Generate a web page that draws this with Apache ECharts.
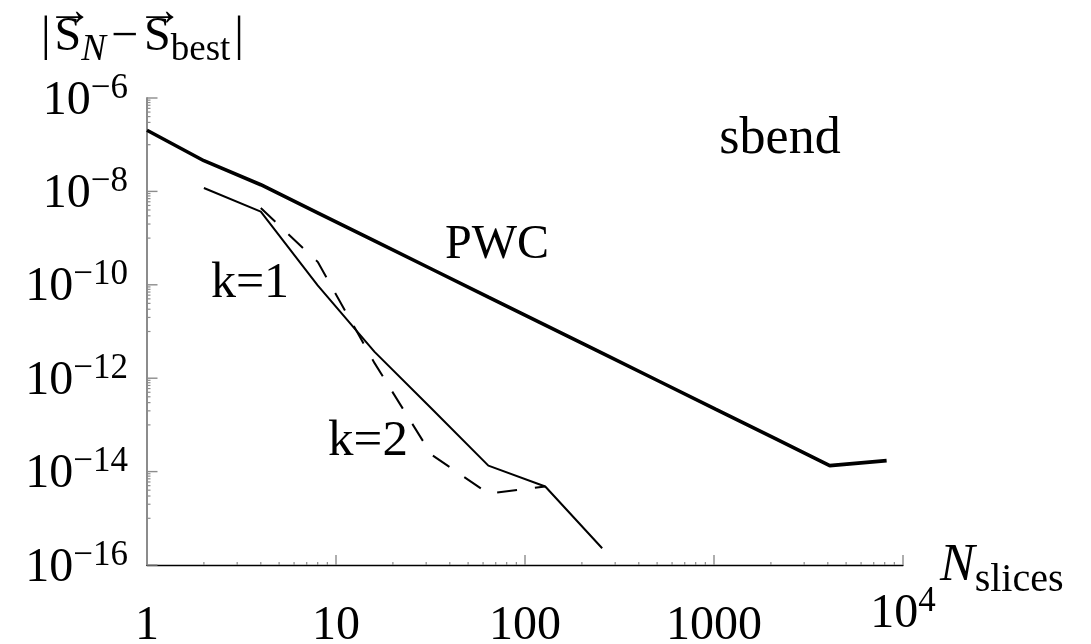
<!DOCTYPE html>
<html>
<head>
<meta charset="utf-8">
<script src="https://cdn.jsdelivr.net/npm/echarts@6/dist/echarts.min.js"></script>
<style>
  html, body { margin: 0; padding: 0; background: #fff; }
  #chart { width: 1091px; height: 644px; }
</style>
</head>
<body>
<div id="chart"></div>
<script>
// Number of slices (powers of two)
const nSlices = [1, 2, 4, 8, 16, 32, 64, 128, 256, 512, 1024, 2048, 4096, 8192];
// |S_N - S_best| for each integration scheme
const pwc = [2.04e-7, 4.54e-8, 1.39e-8, 3.48e-9, 8.7e-10, 2.18e-10, 5.46e-11, 1.37e-11,
             3.43e-12, 8.6e-13, 2.15e-13, 5.4e-14, 1.34e-14, 1.72e-14];
const k1 = [null, 1.18e-8, 3.7e-9, 9.7e-11, 3.66e-12, 2.25e-13, 1.34e-14, 4.8e-15, 2.28e-16,
            null, null, null, null, null];
const k2 = [null, null, 4.4e-9, 3.1e-10, 2.1e-12, 2.3e-14, 3.4e-15, 4.8e-15, null,
            null, null, null, null, null];

// Axis ticks
const xMajor = [1, 10, 100, 1000, 10000];
const yMajor = [1e-6, 1e-8, 1e-10, 1e-12, 1e-14, 1e-16];
const xLabels = ['1', '10', '100', '1000', '10^4'];
const yExponents = [-6, -8, -10, -12, -14, -16];

const FONT = '"Liberation Serif", "Times New Roman", serif';
const X_MIN = 1, Y_MIN = 1e-16;

function pairs(ys) {
  return nSlices.map((n, i) => [n, ys[i]]).filter(p => p[1] != null);
}

// Tick marks: [x, y, length, direction, major] with direction 0 = up from x axis, 1 = right from y axis
const tickData = [];
xMajor.forEach(v => tickData.push([v, Y_MIN, 10, 0, 1]));
xMajor.slice(0, -1).forEach(v => {
  for (let m = 2; m <= 9; m++) tickData.push([v * m, Y_MIN, 3, 0, 0]);
});
yMajor.forEach(v => tickData.push([X_MIN, v, 10.5, 1, 1]));
yMajor.slice(0, -1).forEach(v => {
  for (let m = 1; m <= 9; m++) tickData.push([X_MIN, v * m / 10, 3.5, 1, 0]);
});

function xLabel(v) {
  const e = Math.round(Math.log10(v));
  const s = xLabels[e];
  if (s == null) return '';
  if (s.indexOf('^') >= 0) {
    const parts = s.split('^');
    return '{xt|' + parts[0] + '}{sup|' + parts[1] + '}';
  }
  return '{xb|' + s + '}';
}
function yLabel(v) {
  const e = Math.round(Math.log10(v));
  if (yExponents.indexOf(e) < 0) return '';
  return '{yb|10}{sup|\u2212' + Math.abs(e) + '}';
}

const chart = echarts.init(document.getElementById('chart'), null, { renderer: 'canvas' });

chart.setOption({
  animation: false,
  backgroundColor: '#fff',
  grid: { left: 147, right: 188, top: 98, bottom: 79, containLabel: false, outerBoundsMode: 'none' },
  xAxis: {
    type: 'log', logBase: 10, min: 1, max: 10000,
    axisLine: { lineStyle: { color: '#000', width: 1.3 } },
    axisTick: { show: false },
    splitLine: { show: false },
    axisLabel: {
      margin: 19,
      customValues: xMajor,
      formatter: xLabel,
      rich: {
        xb: { fontFamily: FONT, fontSize: 48, lineHeight: 84, color: '#000' },
        xt: { fontFamily: FONT, fontSize: 48, lineHeight: 54, verticalAlign: 'bottom', color: '#000' },
        sup: { fontFamily: FONT, fontSize: 35, lineHeight: 35, verticalAlign: 'top', color: '#000' }
      }
    }
  },
  yAxis: {
    type: 'log', logBase: 10, min: 1e-16, max: 1e-6,
    axisLine: { lineStyle: { color: '#8c8c8c', width: 2 } },
    axisTick: { show: false },
    splitLine: { show: false },
    axisLabel: {
      margin: 19,
      customValues: yMajor,
      formatter: yLabel,
      rich: {
        yb: { fontFamily: FONT, fontSize: 48, lineHeight: 54, verticalAlign: 'bottom', color: '#000' },
        sup: { fontFamily: FONT, fontSize: 35, lineHeight: 35, verticalAlign: 'top', color: '#000' }
      }
    }
  },
  series: [
    {
      name: 'ticks', type: 'custom', silent: true, clip: false, z: 1,
      data: tickData,
      encode: { x: 0, y: 1 },
      renderItem(params, api) {
        const p = api.coord([api.value(0), api.value(1)]);
        const len = api.value(2);
        const up = api.value(3) === 0;
        return {
          type: 'line',
          shape: up
            ? { x1: p[0], y1: p[1], x2: p[0], y2: p[1] - len }
            : { x1: p[0], y1: p[1], x2: p[0] + len, y2: p[1] },
          style: { stroke: '#8c8c8c', lineWidth: api.value(4) ? 1.4 : 1.2 }
        };
      }
    },
    {
      name: 'PWC', type: 'line', data: pairs(pwc), symbol: 'none', z: 3,
      lineStyle: { color: '#000', width: 3.6 }
    },
    {
      name: 'k=1', type: 'line', data: pairs(k1), symbol: 'none', z: 3,
      lineStyle: { color: '#000', width: 2 }
    },
    {
      name: 'k=2', type: 'line', data: pairs(k2), symbol: 'none', z: 3,
      lineStyle: { color: '#000', width: 2, type: [20, 18] }
    }
  ],
  graphic: [
    {
      type: 'text', x: 41, y: 13,
      style: {
        text: '{m||}{s1|S}{ni|N}{mn|\u2212}{s2|S}{sb|best}{br||}',
        align: 'left', verticalAlign: 'top',
        rich: {
          m: { fontFamily: FONT, fontSize: 48, lineHeight: 56, verticalAlign: 'top', fill: '#000' },
          s1: { fontFamily: FONT, fontSize: 48, lineHeight: 56, verticalAlign: 'top', fill: '#000', padding: [0, 0, 0, 4] },
          mn: { fontFamily: FONT, fontSize: 48, lineHeight: 56, verticalAlign: 'top', fill: '#000', padding: [0, 6, 0, 5] },
          s2: { fontFamily: FONT, fontSize: 48, lineHeight: 56, verticalAlign: 'top', fill: '#000' },
          br: { fontFamily: FONT, fontSize: 48, lineHeight: 56, verticalAlign: 'top', fill: '#000', padding: [0, 0, 0, 4] },
          ni: { fontFamily: FONT, fontStyle: 'italic', fontSize: 37, lineHeight: 37, verticalAlign: 'bottom', fill: '#000' },
          sb: { fontFamily: FONT, fontSize: 37, lineHeight: 37, verticalAlign: 'bottom', fill: '#000' }
        }
      }
    },
    // vector arrows over both S symbols
    { type: 'text', x: 70, y: 13, style: { text: '\u2192', font: '46px ' + FONT, fill: '#000', align: 'center', verticalAlign: 'middle' } },
    { type: 'text', x: 160, y: 13, style: { text: '\u2192', font: '46px ' + FONT, fill: '#000', align: 'center', verticalAlign: 'middle' } },
    {
      type: 'text', x: 940, y: 540,
      style: {
        text: '{n|N}{s|slices}',
        align: 'left', verticalAlign: 'top',
        rich: {
          n: { fontFamily: FONT, fontStyle: 'italic', fontSize: 52, lineHeight: 60, verticalAlign: 'top', fill: '#000' },
          s: { fontFamily: FONT, fontSize: 40, lineHeight: 40, verticalAlign: 'bottom', fill: '#000' }
        }
      }
    },
    { type: 'text', x: 780, y: 139, style: { text: 'sbend', font: '52px ' + FONT, fill: '#000', align: 'center', verticalAlign: 'middle' } },
    { type: 'text', x: 497, y: 245, style: { text: 'PWC', font: '48px ' + FONT, fill: '#000', align: 'center', verticalAlign: 'middle' } },
    { type: 'text', x: 250, y: 284, style: { text: 'k=1', font: '50px ' + FONT, fill: '#000', align: 'center', verticalAlign: 'middle' } },
    { type: 'text', x: 368, y: 442, style: { text: 'k=2', font: '51px ' + FONT, fill: '#000', align: 'center', verticalAlign: 'middle' } }
  ]
});
</script>
</body>
</html>
